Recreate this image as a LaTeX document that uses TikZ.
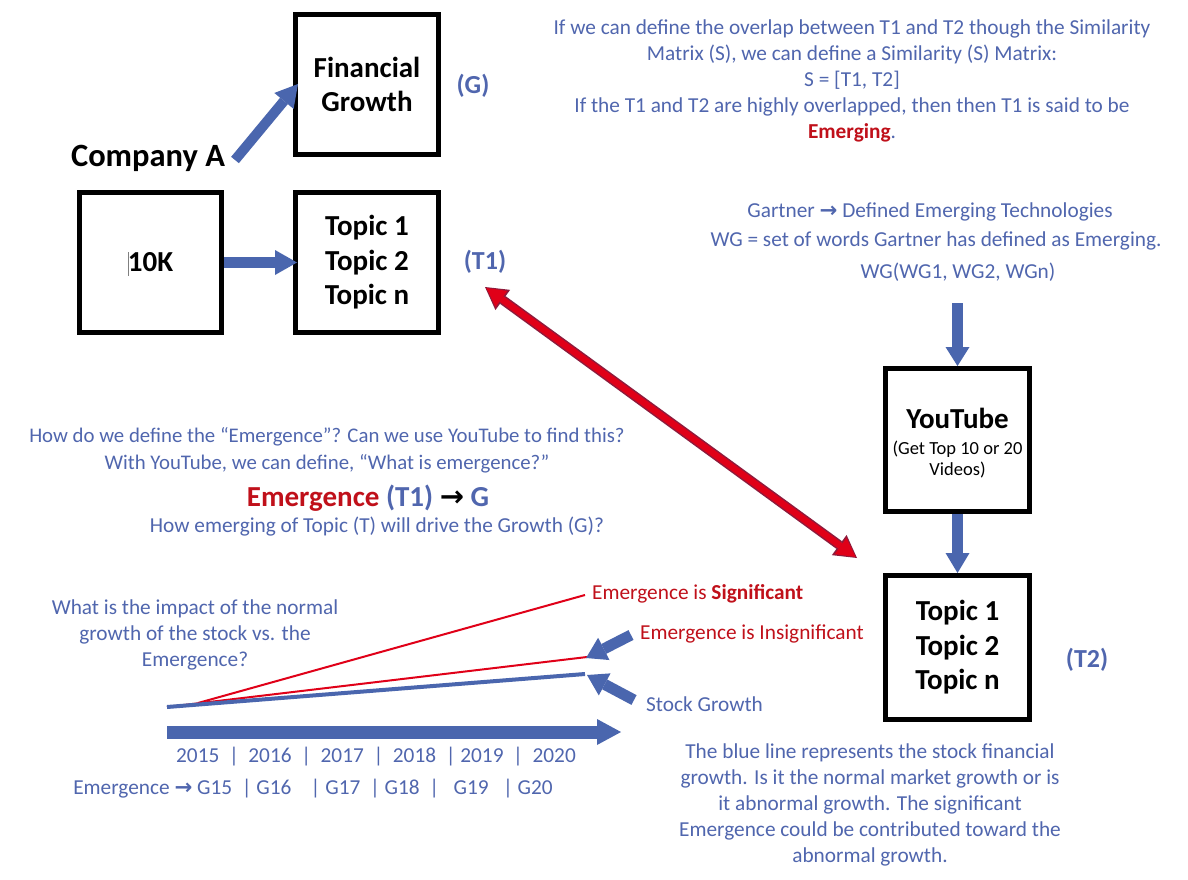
\documentclass[tikz,border=0pt]{standalone}
\usepackage{fontspec}
\setmainfont{Carlito}
\newfontfamily\arwfont{DejaVu Sans}
\usetikzlibrary{arrows.meta}
\definecolor{txtblue}{HTML}{5066AE}
\definecolor{arrblue}{HTML}{4A66AE}
\definecolor{txtred}{HTML}{C0101A}
\definecolor{arrred}{HTML}{E00018}
\definecolor{arrredd}{HTML}{8E1B3C}
\newcommand{\rarr}{{\arwfont\bfseries →}}
\newcommand{\smallyt}{\fontsize{18.5}{21}\selectfont\mdseries}
\tikzset{
  box/.style={draw=black, line width=5pt, minimum width=143pt, minimum height=140pt, inner sep=0pt, align=center, font=\fontsize{29}{34.5}\selectfont\bfseries},
  body/.style={text=txtblue, font=\fontsize{21.3}{26}\selectfont, align=center, inner sep=0pt},
  bodyred/.style={text=txtred, font=\fontsize{21.3}{26}\selectfont, inner sep=0pt},
  tag/.style={text=txtblue, font=\fontsize{26}{30}\selectfont\bfseries, inner sep=0pt},
  blockarrow/.style={draw=arrblue, line width=11pt, -{Triangle[length=22pt,width=25pt,line width=0pt]}},
  redline/.style={draw=arrred, line width=2pt},
}
\begin{document}
\begin{tikzpicture}[x=1pt,y=-1pt]
\useasboundingbox[fill=white] (0,0) rectangle (1188,880);

% boxes
\node[box] (fg) at (367,84.5) {Financial\\Growth};
\node[box, minimum width=142pt] (tenk) at (150.5,262.5) {10K};
\draw[gray, line width=0.6pt] (128,252) -- (128,276);
\node[box] (t1) at (367,262.5) {Topic 1\\Topic 2\\Topic n};
\node[box, minimum width=144pt, minimum height=143pt] (yt) at (957.5,440) {\rule{0pt}{30pt}YouTube\\[-9pt]{\smallyt\begin{tabular}[t]{@{}c@{}}(Get Top 10 or 20\\Videos)\end{tabular}}};
\node[box, minimum width=144pt, minimum height=144pt] (t2) at (957.5,647.5) {Topic 1\\Topic 2\\Topic n};

\node[font=\fontsize{32.5}{36}\selectfont\bfseries, inner sep=0pt] (compA) at (148,158) {Company A};
\node[tag] (G) at (473,86) {(G)};
\node[tag] (T1) at (485,262) {(T1)};
\node[tag] (T2) at (1087,660) {(T2)};

% top right paragraph
\node[body] (simtxt) at (852,81) {If we can define the overlap between T1 and T2 though the Similarity\\
Matrix (S), we can define a Similarity (S) Matrix:\\
S = [T1, T2]\\
If the T1 and T2 are highly overlapped, then then T1 is said to be\\
\textcolor{txtred}{\bfseries Emerging}.};

% Gartner
\node[body] (g1) at (930,212) {Gartner \rarr{} Defined Emerging Technologies};
\node[body] (g2) at (936,241) {WG = set of words Gartner has defined as Emerging.};
\node[body] (g3) at (958,272) {WG(WG1, WG2, WGn)};

% middle left
\node[body, font=\fontsize{20.8}{26}\selectfont] (m1) at (327,437) {How do we define the “Emergence”? Can we use YouTube to find this?};
\node[body, font=\fontsize{20.8}{26}\selectfont] (m2) at (327,464) {With YouTube, we can define, “What is emergence?”};
\node[inner sep=0pt, font=\fontsize{29}{32}\selectfont\bfseries] (m3) at (368,498) {\textcolor{txtred}{Emergence} \textcolor{txtblue}{(T1)} \rarr{} \textcolor{txtblue}{G}};
\node[body] (m4) at (377,527) {How emerging of Topic (T) will drive the Growth (G)?};

% bottom left
\node[body] (q) at (195,635) {What is the impact of the normal\\growth of the stock vs. the\\Emergence?};
\node[body] (years) at (376,757) {2015 ~|~ 2016 ~|~ 2017 ~|~ 2018 ~|~2019 ~|~ 2020};
\node[body] (gs) at (313,789) {Emergence \rarr{} G15 ~|~G16 ~~ | G17 ~|~G18 ~|~ ~G19 ~~|~G20};

\node[bodyred, anchor=west] (sig) at (592,594) {Emergence is \textbf{Significant}};
\node[bodyred, anchor=west] (insig) at (640,634) {Emergence is Insignificant};
\node[body, anchor=west] (sg) at (646,704) {Stock Growth};

% bottom right
\node[body] (para) at (870,805) {The blue line represents the stock financial\\
growth. Is it the normal market growth or is\\
it abnormal growth. The significant\\
Emergence could be contributed toward the\\
abnormal growth.};

% coordinates
\coordinate (caTail) at (235,160);
\coordinate (fgIn) at (298,84);
\coordinate (g3b) at (957.5,303);
\coordinate (redA) at (485,287);
\coordinate (redB) at (857,558);
\coordinate (o) at (167,707);
\coordinate (osig) at (198,703);
\coordinate (esig) at (585,595);
\coordinate (einsig) at (587,657);
\coordinate (estock) at (585,674);
\coordinate (tlA) at (167,732);
\coordinate (tlB) at (621,732);
\coordinate (a1t) at (631,635);
\coordinate (a1h) at (586,658);
\coordinate (a2t) at (634,700);
\coordinate (a2h) at (587,675);

% block arrows
\draw[blockarrow, line width=10pt] (caTail) -- (fgIn);
\draw[blockarrow] (tenk.east) -- ([xshift=4pt]t1.west);
\draw[blockarrow, -{Triangle[length=19pt,width=24pt,line width=0pt]}] (g3b) -- (yt.north);
\draw[blockarrow, -{Triangle[length=20pt,width=24pt,line width=0pt]}] (yt.south) -- (t2.north);

% red double arrow
\draw[draw=arrredd, line width=9.5pt, {Triangle[length=22pt,width=25pt,line width=0pt]}-{Triangle[length=22pt,width=25pt,line width=0pt]}] (redA) -- (redB);
\draw[draw=arrred, line width=6.5pt, shorten <=1.8pt, shorten >=1.8pt, {Triangle[length=18.5pt,width=20pt,line width=0pt]}-{Triangle[length=18.5pt,width=20pt,line width=0pt]}] (redA) -- (redB);

% growth lines
\draw[redline] (osig) -- (esig);
\draw[redline] (o) -- (einsig);
\draw[draw=arrblue, line width=4pt] (o) -- (estock);
\draw[blockarrow, line width=13pt, -{Triangle[length=24pt,width=26pt,line width=0pt]}] (tlA) -- (tlB);
\draw[blockarrow, line width=11pt, -{Triangle[length=20pt,width=25pt,line width=0pt]}] (a1t) -- (a1h);
\draw[blockarrow, line width=11pt, -{Triangle[length=20pt,width=25pt,line width=0pt]}] (a2t) -- (a2h);
\end{tikzpicture}
\end{document}
